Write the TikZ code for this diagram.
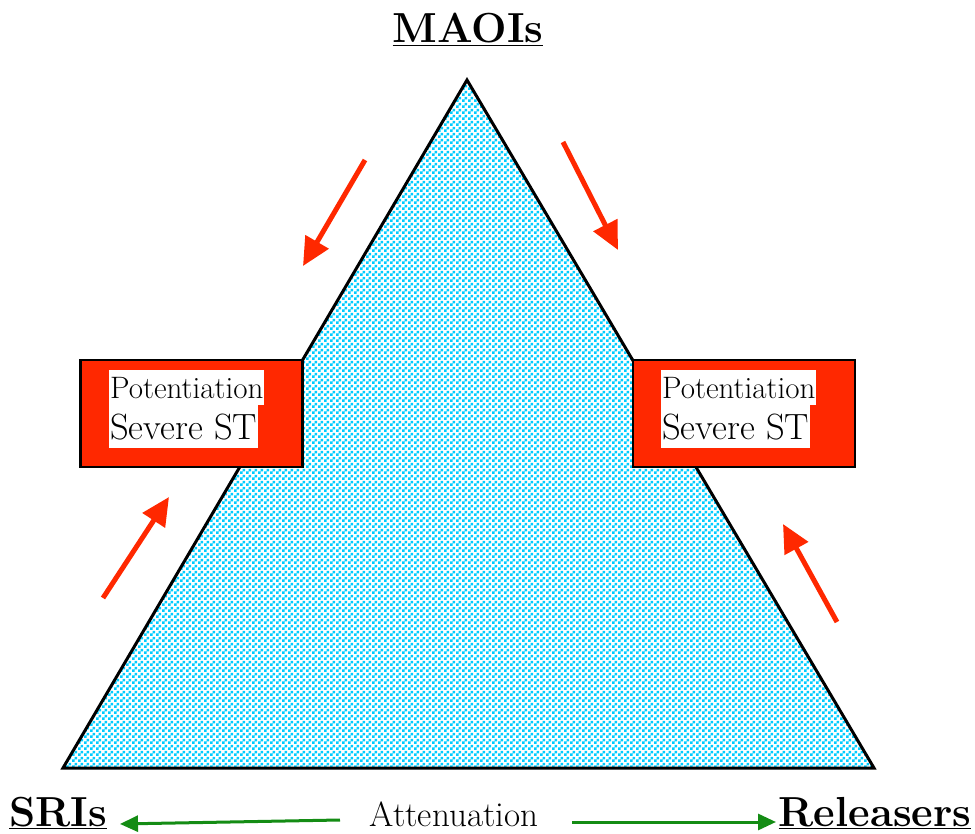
\documentclass[tikz,border=0pt]{standalone}
\usetikzlibrary{arrows.meta,patterns,positioning}
\definecolor{alarmred}{RGB}{255,40,0}
\definecolor{chkcyan}{RGB}{0,204,255}
\definecolor{attgreen}{RGB}{20,140,20}

% small checkerboard fill for the triangle
\pgfdeclarepatternformonly{checker}{\pgfpointorigin}{\pgfqpoint{6pt}{6pt}}{\pgfqpoint{6pt}{6pt}}{
    \pgfpathrectangle{\pgfpointorigin}{\pgfqpoint{3pt}{3pt}}
    \pgfpathrectangle{\pgfqpoint{3pt}{3pt}}{\pgfqpoint{3pt}{3pt}}
    \pgfusepath{fill}}

\begin{document}
\begin{tikzpicture}[
    x=1pt, y=-1pt,
    drug/.style={font=\fontsize{42}{46}\selectfont\bfseries, inner sep=0pt, anchor=base},
    effbox/.style={rectangle, draw=black, line width=2.5pt, fill=alarmred,
                   minimum width=222pt, minimum height=107pt},
    efftext/.style={fill=white, inner sep=1pt, anchor=north west},
    redarrow/.style={-{Triangle[length=28pt,width=26pt]}, line width=5pt, color=alarmred},
    greenarrow/.style={-{Triangle[length=18pt,width=16pt]}, line width=3pt, color=attgreen}
]
\useasboundingbox (0,0) rectangle (975,834);

% Triangle
\coordinate (apex) at (467,80);
\coordinate (left) at (63,768);
\coordinate (right) at (874,768);
\draw[pattern=checker, pattern color=chkcyan, line width=3pt] (apex) -- (left) -- (right) -- cycle;

% Corner labels
\node[drug] (maoi) at (468,43) {\underline{MAOIs}};
\node[drug] (sri) at (58,826) {\underline{SRIs}};
\node[drug] (rel) at (875,826) {\underline{Releasers}};

% Effect boxes
\node[effbox] (potL) at (191.5,413.5) {};
\node[effbox] (potR) at (744,413.5) {};

\node[efftext, font=\fontsize{31}{33}\selectfont, minimum height=35pt] (potLa) at (109,370) {Potentiation};
\node[efftext, font=\fontsize{36.5}{39}\selectfont, minimum height=43pt] (potLb) at (109,405) {Severe ST};
\node[efftext, font=\fontsize{31}{33}\selectfont, minimum height=35pt] (potRa) at (661,370) {Potentiation};
\node[efftext, font=\fontsize{36.5}{39}\selectfont, minimum height=43pt] (potRb) at (661,405) {Severe ST};

% Red arrows along the sides
\coordinate (tlS) at (365,160);
\coordinate (tlE) at (303,266);
\coordinate (trS) at (563,142);
\coordinate (trE) at (618,250);
\coordinate (blS) at (103,598);
\coordinate (blE) at (169,497);
\coordinate (brS) at (837,622);
\coordinate (brE) at (783,524);
\draw[redarrow] (tlS) -- (tlE);
\draw[redarrow] (trS) -- (trE);
\draw[redarrow] (blS) -- (blE);
\draw[redarrow] (brS) -- (brE);

% Attenuation along the base
\node[font=\fontsize{35}{38}\selectfont, inner sep=0pt, anchor=base] (att) at (454,826) {Attenuation};
\coordinate (attL) at (340,820);
\coordinate (sriR) at (120,824);
\coordinate (attR) at (572,822);
\coordinate (relL) at (776,822);
\draw[greenarrow] (attL) -- (sriR);
\draw[greenarrow] (attR) -- (relL);

\end{tikzpicture}
\end{document}
